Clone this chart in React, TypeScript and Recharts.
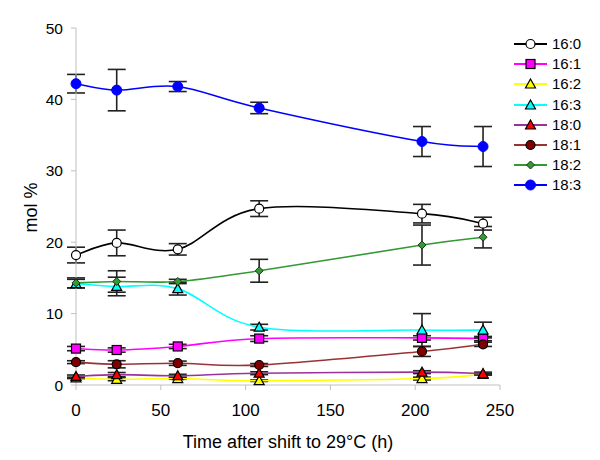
import React from 'react';
import { LineChart, Line, XAxis, YAxis, ErrorBar, Legend } from 'recharts';

const hours = [0, 24, 60, 108, 204, 240];
const xTicks = [0, 50, 100, 150, 200, 250];
const yTicks = [0, 10, 20, 30, 40, 50];

const v160 = [18.2, 19.9, 19.0, 24.7, 24.0, 22.6];
const e160 = [1.1, 1.8, 0.8, 1.1, 1.3, 0.9];
const v161 = [5.1, 4.9, 5.4, 6.5, 6.6, 6.5];
const e161 = [0.3, 0.3, 0.3, 0.4, 0.3, 0.3];
const v162 = [1.0, 0.8, 0.9, 0.6, 0.9, 1.5];
const e162 = [0.1, 0.2, 0.1, 0.1, 0.2, 0.1];
const v163 = [14.2, 13.8, 13.5, 8.1, 7.7, 7.7];
const e163 = [0.6, 1.3, 0.9, 0.4, 2.3, 1.1];
const v180 = [1.2, 1.45, 1.3, 1.65, 1.8, 1.6];
const e180 = [0.2, 0.3, 0.2, 0.2, 0.2, 0.2];
const v181 = [3.2, 2.9, 3.05, 2.8, 4.7, 5.7];
const e181 = [0.2, 0.5, 0.3, 0.2, 0.7, 0.3];
const v182 = [14.3, 14.5, 14.5, 16.0, 19.6, 20.7];
const e182 = [0.7, 1.5, 0.3, 1.6, 2.8, 1.5];
const v183 = [42.2, 41.3, 41.8, 38.8, 34.1, 33.4];
const e183 = [1.3, 2.9, 0.7, 0.8, 2.1, 2.8];

const names = ['16:0', '16:1', '16:2', '16:3', '18:0', '18:1', '18:2', '18:3'];
const values = [v160, v161, v162, v163, v180, v181, v182, v183];
const errors = [e160, e161, e162, e163, e180, e181, e182, e183];

type MarkerKind = 'openCircle' | 'square' | 'triangle' | 'circle' | 'diamond' | 'bigCircle';
const styles: { color: string; marker: MarkerKind; fill: string; stroke: string }[] = [
  { color: '#000000', marker: 'openCircle', fill: '#ffffff', stroke: '#000000' },
  { color: '#ff00ff', marker: 'square', fill: '#ff00ff', stroke: '#000000' },
  { color: '#ffff00', marker: 'triangle', fill: '#ffff00', stroke: '#000000' },
  { color: '#00ffff', marker: 'triangle', fill: '#00ffff', stroke: '#000000' },
  { color: '#993399', marker: 'triangle', fill: '#ff0000', stroke: '#000000' },
  { color: '#993333', marker: 'circle', fill: '#800000', stroke: '#000000' },
  { color: '#339933', marker: 'diamond', fill: '#339933', stroke: '#000000' },
  { color: '#0000ff', marker: 'bigCircle', fill: '#0000ff', stroke: '#0000ff' },
];

const data = hours.map((h, i) => {
  const row: Record<string, number> = { h };
  names.forEach((n, k) => {
    row['v' + k] = values[k][i];
    row['e' + k] = errors[k][i];
  });
  return row;
});

function smoothCurve(context: any) {
  let pts: [number, number][] = [];
  return {
    areaStart() {},
    areaEnd() {},
    lineStart() {
      pts = [];
    },
    point(x: number, y: number) {
      pts.push([+x, +y]);
    },
    lineEnd() {
      const n = pts.length;
      if (n === 0) return;
      context.moveTo(pts[0][0], pts[0][1]);
      const t = 1 / 6;
      for (let i = 0; i < n - 1; i++) {
        const p0 = pts[i - 1] || pts[i];
        const p1 = pts[i];
        const p2 = pts[i + 1];
        const p3 = pts[i + 2] || p2;
        context.bezierCurveTo(
          p1[0] + (p2[0] - p0[0]) * t,
          p1[1] + (p2[1] - p0[1]) * t,
          p2[0] - (p3[0] - p1[0]) * t,
          p2[1] - (p3[1] - p1[1]) * t,
          p2[0],
          p2[1]
        );
      }
    },
  };
}

function Marker({ kind, cx, cy, fill, stroke }: { kind: MarkerKind; cx: number; cy: number; fill: string; stroke: string }) {
  switch (kind) {
    case 'openCircle':
      return <circle cx={cx} cy={cy} r={4.5} fill={fill} stroke={stroke} strokeWidth={1.2} />;
    case 'square':
      return <rect x={cx - 4.5} y={cy - 4.5} width={9} height={9} fill={fill} stroke={stroke} strokeWidth={1.2} />;
    case 'triangle':
      return (
        <polygon
          points={`${cx},${cy - 5} ${cx + 5},${cy + 4} ${cx - 5},${cy + 4}`}
          fill={fill}
          stroke={stroke}
          strokeWidth={1.2}
        />
      );
    case 'circle':
      return <circle cx={cx} cy={cy} r={4.5} fill={fill} stroke={stroke} strokeWidth={1.2} />;
    case 'diamond':
      return (
        <polygon
          points={`${cx},${cy - 4} ${cx + 4},${cy} ${cx},${cy + 4} ${cx - 4},${cy}`}
          fill={fill}
          stroke={'#1a331a'}
          strokeWidth={1}
        />
      );
    case 'bigCircle':
    default:
      return <circle cx={cx} cy={cy} r={5} fill={fill} stroke={stroke} strokeWidth={1} />;
  }
}

const font = '"Liberation Sans", Arial, sans-serif';

function LegendContent() {
  return (
    <div style={{ fontFamily: font, fontSize: 15, color: '#000' }}>
      {names.map((n, k) => (
        <div key={n} style={{ display: 'flex', alignItems: 'center', height: 20.2 }}>
          <svg width={36} height={14} style={{ display: 'block' }}>
            <line x1={0} y1={7} x2={33} y2={7} stroke={styles[k].color} strokeWidth={2} />
            <Marker kind={styles[k].marker} cx={16.5} cy={7} fill={styles[k].fill} stroke={styles[k].stroke} />
          </svg>
          <span style={{ marginLeft: 2, lineHeight: '20px' }}>{n}</span>
        </div>
      ))}
    </div>
  );
}

export default function App() {
  return (
    <div style={{ fontFamily: font }}>
      <LineChart width={590} height={450} data={data} margin={{ top: 20, right: 98, left: 0, bottom: 0 }}>
        <XAxis
          dataKey="h"
          type="number"
          domain={[0, 250]}
          ticks={xTicks}
          tickSize={5}
          tickMargin={14}
          height={73}
          stroke="#c0c0c0"
          tick={{ fill: '#000', fontSize: 17, fontFamily: font }}
          label={{
            value: 'Time after shift to 29°C (h)',
            position: 'insideBottom',
            offset: 10,
            style: { fill: '#000', fontSize: 18, fontFamily: font },
          }}
        />
        <YAxis
          type="number"
          domain={[0, 50]}
          ticks={yTicks}
          tickSize={5}
          tickMargin={8}
          width={68}
          stroke="#c0c0c0"
          tick={{ fill: '#000', fontSize: 15.5, fontFamily: font }}
          label={(props: any) => {
            const vb = props.viewBox || { x: 0, y: 20, height: 357 };
            const x = 28.5;
            const y = vb.y + vb.height / 2 + 1;
            return (
              <text
                x={x}
                y={y}
                transform={`rotate(-90, ${x}, ${y})`}
                textAnchor="middle"
                fill="#000"
                fontSize={18}
                fontFamily={font}
              >
                mol %
              </text>
            );
          }}
        />
        <Legend
          layout="vertical"
          align="center"
          verticalAlign="middle"
          content={<LegendContent />}
          wrapperStyle={{ left: 506, top: 26, width: 84 }}
        />
        {names.map((n, k) => (
          <Line
            key={n}
            name={n}
            dataKey={'v' + k}
            type={smoothCurve as any}
            stroke={styles[k].color}
            strokeWidth={1.6}
            isAnimationActive={false}
            dot={(p: any) => (
              <Marker
                key={'d' + k + '-' + p.index}
                kind={styles[k].marker}
                cx={p.cx}
                cy={p.cy}
                fill={styles[k].fill}
                stroke={styles[k].stroke}
              />
            )}
            activeDot={false}
          >
            <ErrorBar dataKey={'e' + k} width={9} stroke="#222" strokeWidth={1.6} direction="y" />
          </Line>
        ))}
      </LineChart>
    </div>
  );
}
